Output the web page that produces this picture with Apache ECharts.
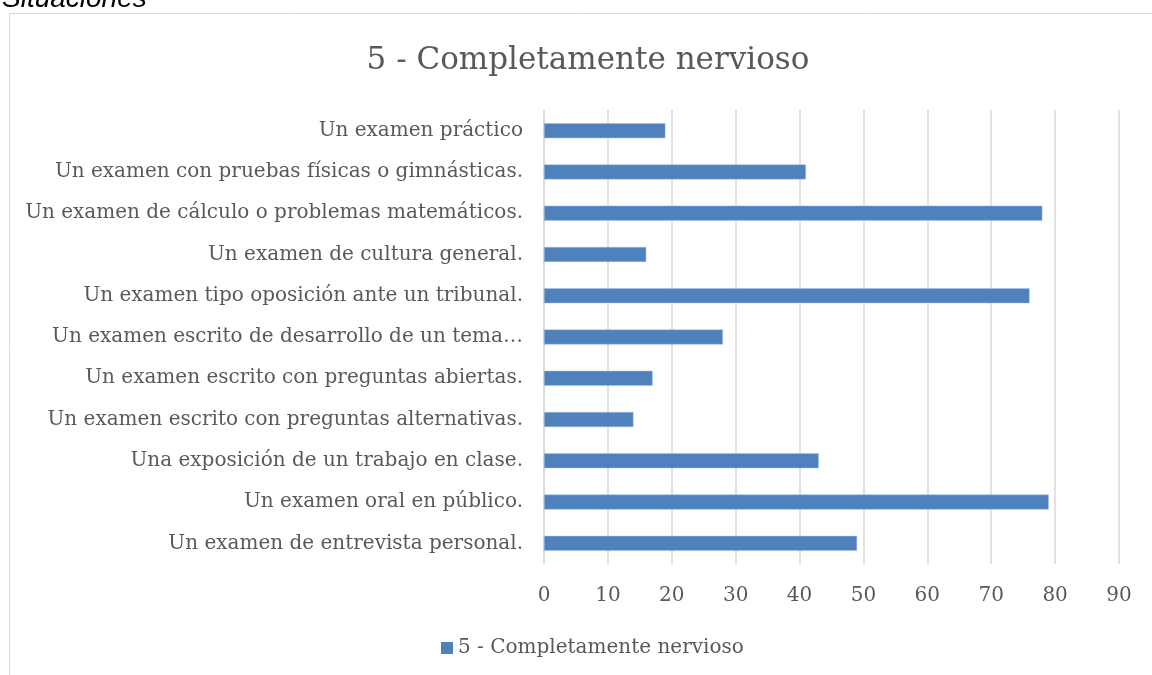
<!DOCTYPE html>
<html><head><meta charset="utf-8">
<script src="https://cdn.jsdelivr.net/npm/echarts@6/dist/echarts.min.js"></script>
<style>html,body{margin:0;padding:0;background:#fff}#c{width:1152px;height:675px}</style>
</head><body><div id="c"></div>
<script>
// categories, top to bottom as shown
const categories = [
  "Un examen práctico",
  "Un examen con pruebas físicas o gimnásticas.",
  "Un examen de cálculo o problemas matemáticos.",
  "Un examen de cultura general.",
  "Un examen tipo oposición ante un tribunal.",
  "Un examen escrito de desarrollo de un tema…",
  "Un examen escrito con preguntas abiertas.",
  "Un examen escrito con preguntas alternativas.",
  "Una exposición de un trabajo en clase.",
  "Un examen oral en público.",
  "Un examen de entrevista personal."
];
const values = [19, 41, 78, 16, 76, 28, 17, 14, 43, 79, 49];
const seriesName = "5 - Completamente nervioso";
const chartTitle = "5 - Completamente nervioso";
const pageCaption = "Situaciones";
const axisMin = 0, axisMax = 90, axisStep = 10;

const serif = "DejaVu Serif";
const chart = echarts.init(document.getElementById('c'));
chart.setOption({
  backgroundColor: '#fff',
  animation: false,
  graphic: [
    { type: 'rect', shape: { x: 9.5, y: 13.5, width: 1300, height: 800 },
      style: { fill: 'none', stroke: '#d9d9d9', lineWidth: 1 } },
    { type: 'text', x: 2, y: 13, z: -1,
      style: { text: pageCaption, font: 'italic 28px "Liberation Sans"', fill: '#000', verticalAlign: 'bottom' } }
  ],
  title: {
    text: chartTitle, left: 583, top: 40, textAlign: 'center',
    textStyle: { fontFamily: serif, fontSize: 31, fontWeight: 'normal', color: '#595959' }
  },
  legend: {
    data: [seriesName], left: 436, top: 633,
    icon: 'rect', itemWidth: 12, itemHeight: 12, itemGap: 5,
    itemStyle: { borderWidth: 0 },
    textStyle: { fontFamily: serif, fontSize: 20, color: '#595959' }
  },
  grid: { left: 544, right: 33, top: 110, bottom: 111, containLabel: false },
  xAxis: {
    type: 'value', min: axisMin, max: axisMax, interval: axisStep,
    axisLine: { show: false }, axisTick: { show: false },
    splitLine: { show: true, lineStyle: { color: '#d9d9d9', width: 1.5 } },
    axisLabel: { fontFamily: serif, fontSize: 20, color: '#595959', margin: 22 }
  },
  yAxis: {
    type: 'category', data: categories, inverse: true,
    axisLine: { show: true, lineStyle: { color: '#d9d9d9', width: 1.5 } },
    axisTick: { show: false },
    axisLabel: { fontFamily: serif, fontSize: 20, color: '#595959', margin: 21 }
  },
  series: [{
    name: seriesName, type: 'bar', data: values, barWidth: 15,
    itemStyle: { color: '#4f81bd', borderColor: '#a9c0de', borderWidth: 0.5 }
  }]
});
</script></body></html>
